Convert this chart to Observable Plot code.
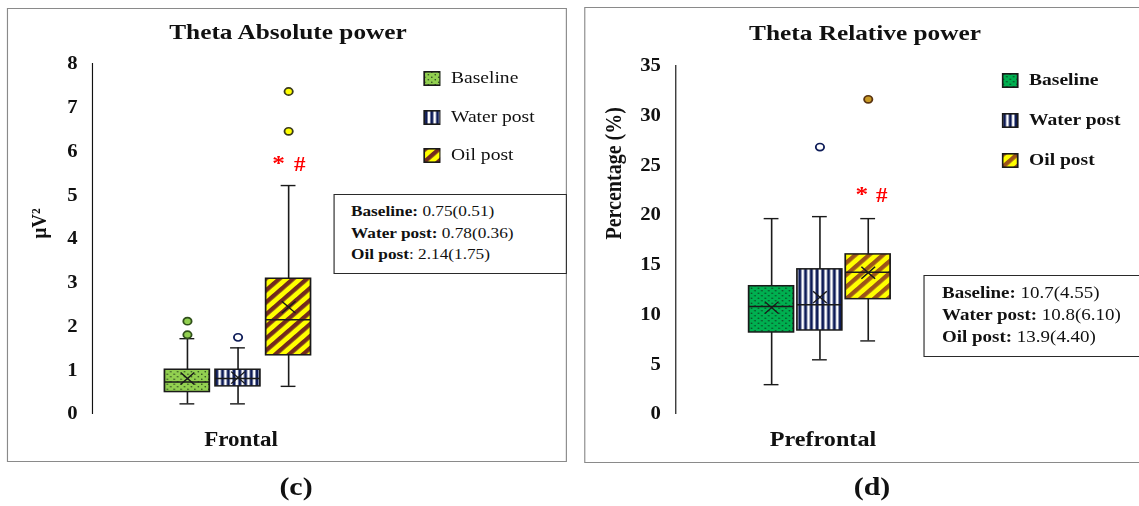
<!DOCTYPE html>
<html><head><meta charset="utf-8">
<script src="https://cdn.jsdelivr.net/npm/d3@7"></script>
<script src="https://cdn.jsdelivr.net/npm/@observablehq/plot@0.6"></script>
<style>
html,body{margin:0;padding:0;background:#fff;overflow:hidden;}
body{width:1139px;height:506px;position:relative;font-family:"Liberation Serif","Times New Roman",serif;color:#111;}
#stage{position:absolute;left:0;top:0;height:506px;transform-origin:0 0;}
.abs{position:absolute;white-space:nowrap;}
</style></head><body><div id="stage"></div>
<script>
// ---------------- DATA ----------------
const groups = ["Baseline", "Water post", "Oil post"];
const titles = ["Theta Absolute power", "Theta Relative power"];
const regions = ["Frontal", "Prefrontal"];
const captions = ["(c)", "(d)"];
const yLabels = ["μV²", "Percentage (%)"];
const sigMarks = ["*", "#"];
const sigGroup = "Oil post";

// (c) Theta absolute power, Frontal
const absTicks = [0, 1, 2, 3, 4, 5, 6, 7, 8];
const absLow = [0.22, 0.22, 0.62];
const absQ1 = [0.49, 0.62, 1.33];
const absMedian = [0.72, 0.80, 2.14];
const absQ3 = [1.00, 1.00, 3.08];
const absHigh = [1.71, 1.50, 5.21];
const absMean = [0.80, 0.82, 2.43];
const absOutliers = [[1.80, 2.11], [1.74], [6.45, 7.36]];
const absStats = ["0.75(0.51)", "0.78(0.36)", "2.14(1.75)"];
const absSigY = [5.72, 5.69];

// (d) Theta relative power, Prefrontal
const relTicks = [0, 5, 10, 15, 20, 25, 30, 35];
const relLow = [2.9, 5.4, 7.3];
const relQ1 = [8.15, 8.35, 11.5];
const relMedian = [10.75, 10.95, 14.2];
const relQ3 = [12.8, 14.5, 16.0];
const relHigh = [19.6, 19.8, 19.6];
const relMean = [10.65, 11.7, 14.15];
const relOutliers = [[], [26.8], [31.6]];
const relStats = ["10.7(4.55)", "10.8(6.10)", "13.9(4.40)"];
const relSigY = [22.05, 21.9];

const panels = [
  {low: absLow, q1: absQ1, median: absMedian, q3: absQ3, high: absHigh, mean: absMean, outliers: absOutliers, stats: absStats, sigY: absSigY, ticks: absTicks, domain: [0, 8]},
  {low: relLow, q1: relQ1, median: relMedian, q3: relQ3, high: relHigh, mean: relMean, outliers: relOutliers, stats: relStats, sigY: relSigY, ticks: relTicks, domain: [0, 35]}
];

// ---------------- STYLE / LAYOUT ----------------
const S = 1.15;               // horizontal stretch of the original figure
const X = p => p / S;
const stage = document.getElementById("stage");
stage.style.width = X(1139) + "px";
stage.style.transform = `scaleX(${S})`;

const styles = [
  {id: "pc", base: "#92D050", dot: "#27401a", waterStripe: "#0D1B57", oil: "#FFFF00", oilStripe: "#722A1E",
   outFill: {"Baseline": "#92D050", "Water post": "#FFFFFF", "Oil post": "#FFFF00"},
   outStroke: {"Baseline": "#2f4f1a", "Water post": "#0D1B57", "Oil post": "#3a3a1a"}},
  {id: "pd", base: "#00B050", dot: "#0a3a1e", waterStripe: "#0D1B57", oil: "#FFFF00", oilStripe: "#9B5419",
   outFill: {"Baseline": "#00B050", "Water post": "#FFFFFF", "Oil post": "#C99A25"},
   outStroke: {"Baseline": "#0a3a1e", "Water post": "#0D1B57", "Oil post": "#5a3512"}}
];

const layouts = [
  {frame: {x: 7, y: 8, w: 560, h: 454}, axisX: 92, yTop: 63, yBottom: 413, boxes: [163, 312], padInner: 0.106, capW: 16,
   title: {cx: 288, base: 39}, region: {cx: 241, base: 446, size: 20}, caption: {cx: 296, base: 496},
   legend: {sx: 423, sw: 18, tx: 451, centers: [78, 117, 155], bold: false},
   stats: {x: 333, y: 194, w: 234, h: 80, tx: 351, bases: [217, 238.5, 260], size: 15, colonBold: [true, true, false]},
   sigDx: [-10, 11], labelOffset: 53, labelSize: 19},
  {frame: {x: 584, y: 7, w: 575, h: 456}, axisX: 675, yTop: 65, yBottom: 413, boxes: [748, 892], padInner: 0.06, capW: 16,
   title: {cx: 865, base: 40}, region: {cx: 823, base: 447, size: 21}, caption: {cx: 872, base: 496},
   legend: {sx: 1002, sw: 17, tx: 1029, centers: [80, 120, 160], bold: true},
   stats: {x: 924, y: 275, w: 240, h: 82, tx: 942, bases: [298.5, 320.5, 342.5], size: 16.5, colonBold: [true, true, true]},
   sigDx: [-6.5, 13.5], labelOffset: 62, labelSize: 20}
];

function addText(html, {x, base, size, weight = "normal", center = false, color = "#111"}) {
  const d = document.createElement("div");
  d.className = "abs";
  d.innerHTML = html;
  d.style.fontSize = size + "px";
  d.style.lineHeight = size + "px";
  d.style.fontWeight = weight;
  d.style.color = color;
  d.style.top = (base - 0.8375 * size) + "px";
  d.style.left = X(x) + "px";
  if (center) d.style.transform = "translateX(-50%)";
  stage.appendChild(d);
  return d;
}
function addRect(x, y, w, h, border) {
  const d = document.createElement("div");
  d.className = "abs";
  Object.assign(d.style, {left: X(x) + "px", top: y + "px", width: X(w) + "px", height: h + "px", border, boxSizing: "border-box"});
  stage.appendChild(d);
  return d;
}

function addPatterns(svg, St) {
  const defs = d3.select(svg).insert("defs", ":first-child");
  const pb = defs.append("pattern").attr("id", St.id + "-base").attr("patternUnits", "userSpaceOnUse").attr("width", 6).attr("height", 5);
  pb.append("rect").attr("width", 6).attr("height", 5).attr("fill", St.base);
  pb.append("circle").attr("cx", 1.5).attr("cy", 1.25).attr("r", 0.7).attr("fill", St.dot);
  pb.append("circle").attr("cx", 4.5).attr("cy", 3.75).attr("r", 0.7).attr("fill", St.dot);
  const pw = defs.append("pattern").attr("id", St.id + "-water").attr("patternUnits", "userSpaceOnUse").attr("width", 5).attr("height", 5);
  pw.append("rect").attr("width", 5).attr("height", 5).attr("fill", "#fff");
  pw.append("rect").attr("x", 1.2).attr("width", 2.6).attr("height", 5).attr("fill", St.waterStripe);
  const po = defs.append("pattern").attr("id", St.id + "-oil").attr("patternUnits", "userSpaceOnUse").attr("width", 8.5).attr("height", 8.5).attr("patternTransform", "rotate(45)");
  po.append("rect").attr("width", 8.5).attr("height", 8.5).attr("fill", St.oil);
  po.append("rect").attr("width", 4).attr("height", 8.5).attr("fill", St.oilStripe);
}

function buildPanel(i) {
  const P = panels[i], L = layouts[i], St = styles[i];
  const f = L.frame;
  const width = X(f.w), height = f.h;
  const marginLeft = X(L.axisX - f.x);
  const marginTop = L.yTop - f.y;
  const marginBottom = f.h - (L.yBottom - f.y);
  const xRange = [X(L.boxes[0] - f.x), X(L.boxes[1] - f.x)];
  const step = (xRange[1] - xRange[0]) / (groups.length - L.padInner);
  const bw = step * (1 - L.padInner);
  const capInset = (bw - X(L.capW)) / 2;
  const fillFor = {"Baseline": `url(#${St.id}-base)`, "Water post": `url(#${St.id}-water)`, "Oil post": `url(#${St.id}-oil)`};
  const rows = groups.map((g, j) => ({group: g, lo: P.low[j], q1: P.q1[j], median: P.median[j], q3: P.q3[j], hi: P.high[j], mean: P.mean[j]}));
  const outs = P.outliers.flatMap((vals, j) => vals.map(v => ({group: groups[j], value: v})));
  const sigStar = [{group: sigGroup, y: P.sigY[0], t: sigMarks[0]}];
  const sigHash = [{group: sigGroup, y: P.sigY[1], t: sigMarks[1]}];
  const ink = "#1a1a1a";
  const svg = Plot.plot({
    width, height, marginLeft, marginTop, marginBottom, marginRight: 0,
    style: {fontFamily: "'Liberation Serif', serif", fontWeight: "bold", fontSize: "18px", color: "#111", background: "transparent", overflow: "visible"},
    x: {domain: groups, range: xRange, paddingInner: L.padInner, paddingOuter: 0, axis: null},
    y: {domain: P.domain, ticks: P.ticks, tickSize: 0, tickPadding: 13, line: true, label: null},
    color: {type: "identity"},
    marks: [
      Plot.ruleX(rows, {x: "group", y1: "lo", y2: "hi", stroke: ink, strokeWidth: 1.4}),
      Plot.barY(rows, {x: "group", y1: "q1", y2: "q3", fill: d => fillFor[d.group], stroke: ink, strokeWidth: 1.5}),
      Plot.tickY(rows, {x: "group", y: "median", stroke: ink, strokeWidth: 1.5}),
      Plot.tickY(rows, {x: "group", y: "lo", stroke: ink, strokeWidth: 1.4, insetLeft: capInset, insetRight: capInset}),
      Plot.tickY(rows, {x: "group", y: "hi", stroke: ink, strokeWidth: 1.4, insetLeft: capInset, insetRight: capInset}),
      Plot.dot(rows, {x: "group", y: "mean", symbol: "times", r: 5.5, stroke: ink, strokeWidth: 1.3}),
      Plot.dot(outs, {x: "group", y: "value", r: 3.6, fill: d => St.outFill[d.group], stroke: d => St.outStroke[d.group], strokeWidth: 1.6}),
      Plot.text(sigStar, {x: "group", y: "y", text: "t", dx: X(L.sigDx[0]), fill: "#FF0000", fontSize: 22}),
      Plot.text(sigHash, {x: "group", y: "y", text: "t", dx: X(L.sigDx[1]), fill: "#FF0000", fontSize: 20}),
      Plot.text([yLabels[i]], {frameAnchor: "left", text: d => d, rotate: -90, dx: -X(L.labelOffset), fontSize: L.labelSize, fill: "#111"})
    ]
  });
  addPatterns(svg, St);
  svg.style.position = "absolute";
  svg.style.left = X(f.x) + "px";
  svg.style.top = f.y + "px";
  stage.appendChild(svg);

  // frame
  addRect(f.x, f.y, f.w, f.h, "1.6px solid #8a8a8a");
  // title, region label, caption
  addText(titles[i], {x: L.title.cx, base: L.title.base, size: 22, weight: "bold", center: true});
  addText(regions[i], {x: L.region.cx, base: L.region.base, size: L.region.size, weight: "bold", center: true});
  addText(captions[i], {x: L.caption.cx, base: L.caption.base, size: 26, weight: "bold", center: true});
  // legend
  groups.forEach((g, j) => {
    const c = L.legend.centers[j];
    const sw = document.createElementNS("http://www.w3.org/2000/svg", "svg");
    const w = X(L.legend.sw), h = 15;
    sw.setAttribute("width", w); sw.setAttribute("height", h);
    sw.style.position = "absolute"; sw.style.left = X(L.legend.sx) + "px"; sw.style.top = (c - h / 2) + "px";
    sw.innerHTML = `<rect x="0.8" y="0.8" width="${w - 1.6}" height="${h - 1.6}" fill="${fillFor[g]}" stroke="#1a1a1a" stroke-width="1.6"/>`;
    stage.appendChild(sw);
    addText(g, {x: L.legend.tx, base: c + 0.33 * 17, size: 17, weight: L.legend.bold ? "bold" : "normal"});
  });
  // stats box
  const s = L.stats;
  const box = addRect(s.x, s.y, s.w, s.h, "1.5px solid #2a2a2a");
  box.style.background = "#fff";
  groups.forEach((g, j) => {
    const label = s.colonBold[j] ? `<b>${g}:</b> ${P.stats[j]}` : `<b>${g}</b>: ${P.stats[j]}`;
    addText(label, {x: s.tx, base: s.bases[j], size: s.size});
  });
}
buildPanel(0);
buildPanel(1);
</script></body></html>
